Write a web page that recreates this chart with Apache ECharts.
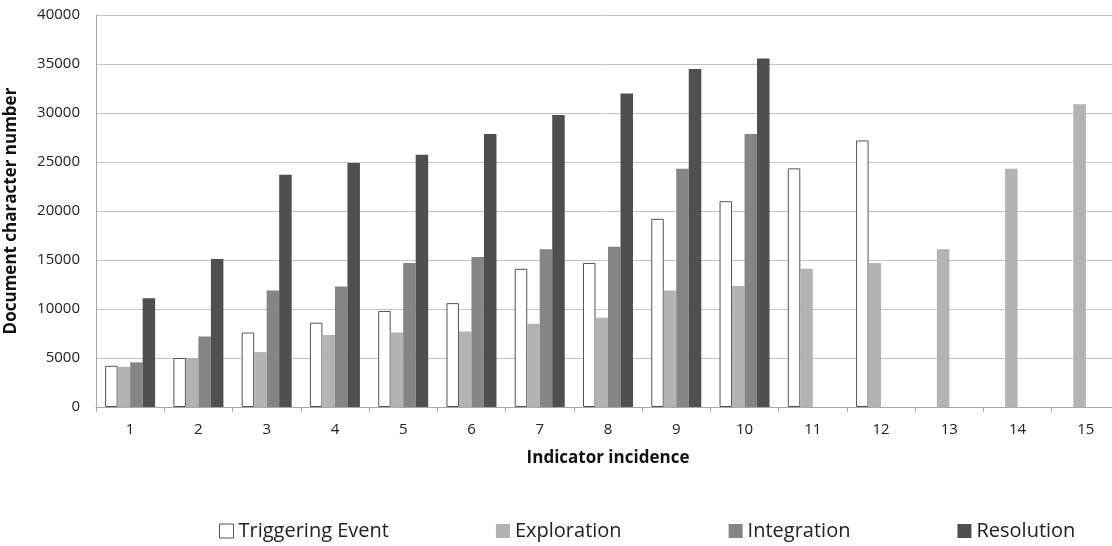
<!DOCTYPE html>
<html>
<head>
<meta charset="utf-8">
<script src="https://cdn.jsdelivr.net/npm/echarts@6/dist/echarts.min.js"></script>
<style>html,body{margin:0;padding:0;background:#fff}#c{width:1112px;height:546px}</style>
</head>
<body>
<div id="c"></div>
<script>
const categories = ['1','2','3','4','5','6','7','8','9','10','11','12','13','14','15'];
const seriesNames = ['Triggering Event','Exploration','Integration','Resolution'];
const triggering = [4200, 5000, 7600, 8600, 9800, 10600, 14100, 14700, 19200, 21000, 24350, 27200, null, null, null];
const exploration = [4100, 5000, 5600, 7350, 7600, 7700, 8500, 9100, 11900, 12350, 14100, 14700, 16100, 24300, 30900];
const integration = [4550, 7200, 11900, 12300, 14700, 15300, 16100, 16350, 24300, 27850, null, null, null, null, null];
const resolution = [11100, 15100, 23700, 24900, 25750, 27850, 29800, 32000, 34500, 35550, null, null, null, null, null];
const yTicks = [0, 5000, 10000, 15000, 20000, 25000, 30000, 35000, 40000];

const chart = echarts.init(document.getElementById('c'));
const font = 'Open Sans';
const barW = 12.5;
chart.setOption({
  animation: false,
  textStyle: { fontFamily: font },
  grid: { left: 96, top: 15, width: 1024, height: 392, outerBoundsMode: 'none', containLabel: false },
  legend: {
    bottom: 0, left: 214,
    itemGap: 107, itemWidth: 14, itemHeight: 14, itemStyle: { borderWidth: 1 },
    icon: 'rect',
    textStyle: { fontFamily: font, fontSize: 20, color: '#222' },
    data: seriesNames
  },
  xAxis: {
    type: 'category', data: categories,
    name: 'Indicator incidence', nameLocation: 'middle', nameGap: 43,
    nameTextStyle: { fontWeight: 'bold', fontSize: 17, color: '#111' },
    axisLine: { lineStyle: { color: '#a8a8a8' } },
    axisTick: { show: true, length: 5, lineStyle: { color: '#a8a8a8' } },
    axisLabel: { fontSize: 15, color: '#222', margin: 15 }
  },
  yAxis: {
    type: 'value', min: yTicks[0], max: yTicks[yTicks.length - 1], interval: 5000,
    name: 'Document character number', nameLocation: 'middle', nameGap: 76,
    nameTextStyle: { fontWeight: 'bold', fontSize: 17, color: '#111' },
    axisLine: { show: true, lineStyle: { color: '#a8a8a8' } },
    axisTick: { show: false },
    splitLine: { lineStyle: { color: '#c4c4c4' } },
    axisLabel: { fontSize: 15, color: '#222', margin: 16, formatter: v => String(v) }
  },
  series: [
    { name: seriesNames[0], type: 'bar', data: triggering, barWidth: barW, barGap: '0%',
      itemStyle: { color: '#ffffff', borderColor: '#555555', borderWidth: 1 } },
    { name: seriesNames[1], type: 'bar', data: exploration, barWidth: barW, barGap: '0%',
      itemStyle: { color: '#b3b3b3' } },
    { name: seriesNames[2], type: 'bar', data: integration, barWidth: barW, barGap: '0%',
      itemStyle: { color: '#858585' } },
    { name: seriesNames[3], type: 'bar', data: resolution, barWidth: barW, barGap: '0%',
      itemStyle: { color: '#4f4f4f' } }
  ]
});
</script>
</body>
</html>
